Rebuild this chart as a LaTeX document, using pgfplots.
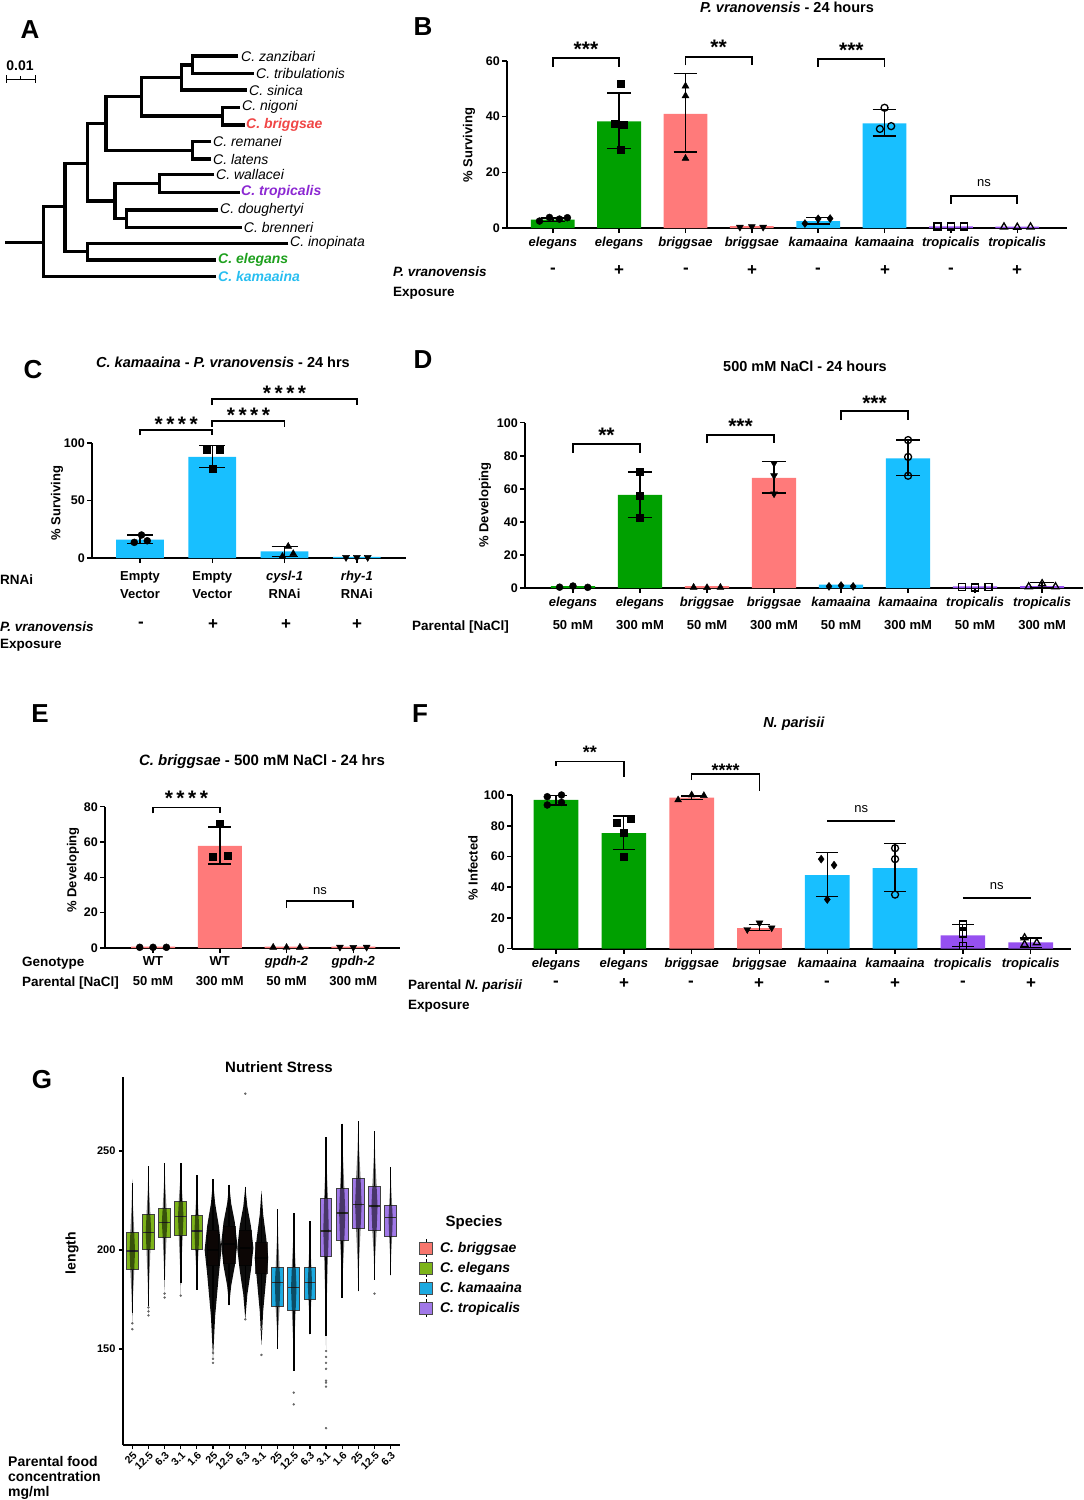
\documentclass[border=0pt]{standalone}
\usepackage{fontspec}
\setmainfont{Liberation Sans}
\usepackage{pgfplots}
\pgfplotsset{compat=1.18}
\definecolor{cgreen}{RGB}{0,160,0}
\definecolor{csalmon}{RGB}{255,122,122}
\definecolor{ccyan}{RGB}{24,191,255}
\definecolor{cpurple}{RGB}{150,80,240}
\definecolor{golive}{RGB}{125,180,25}
\definecolor{gcyan}{RGB}{28,170,225}
\definecolor{gpurple}{RGB}{160,120,232}
\definecolor{gsalmon}{RGB}{248,118,109}
\definecolor{tred}{RGB}{240,70,70}
\definecolor{tpurple}{RGB}{140,40,210}
\definecolor{tgreen}{RGB}{30,160,30}
\definecolor{tcyan}{RGB}{40,190,240}
\newcommand\fs[2]{\fontsize{#1}{#2}\selectfont}
\tikzset{stx/.style={font=\bfseries\fs{21}{21}}, stf/.style={font=\bfseries\fs{18}{18}}, nsl/.style={font=\fs{13}{13}}}
\pgfplotsset{
 gp/.style={scale only axis, clip=false, axis lines=left,
   axis line style={-, line width=1.8pt, black},
   tick align=outside, major tick length=5pt,
   every tick/.append style={black, line width=1.5pt},
   /pgf/number format/assume math mode=true,
   yticklabel style={font=\bfseries\fs{12.5}{14}, inner sep=2pt},
   xticklabel style={font=\bfseries\itshape\fs{13}{15}, inner sep=2pt, yshift=-2pt},
   ymin=0, xtick={0,...,7}},
 ebs/.style={black, line width=1.5pt},
 br/.style={black, line width=1.8pt},
 gbar/.style={ybar, bar width=0.66, bar shift=0pt, draw=none, fill=#1},
 mk/.style={only marks, mark=#1, mark size=3.5pt, color=black, mark options={solid, fill=black}},
 omk/.style={only marks, mark=#1, mark size=3.5pt, color=black, mark options={solid, fill=white, line width=1.3pt}},
 mkd/.style={only marks, mark=triangle*, mark size=4pt, color=black, mark options={solid, fill=black, rotate=180}},
 gcl/.style={fill=black, draw=none, opacity=0.55, forget plot},
 gbl/.style={fill=black, draw=none, opacity=0.95, forget plot},
 tr/.style={black, line width=3.5pt},
}
% error bar: [halfcap]{x}{lo}{hi}
\newcommand\eb[4][0.18]{%
 \pgfmathsetmacro\ebl{#2-#1}\pgfmathsetmacro\ebr{#2+#1}%
 \edef\ebtmp{\noexpand\addplot[ebs] coordinates {(\ebl,#4)(\ebr,#4)};%
 \noexpand\addplot[ebs] coordinates {(#2,#4)(#2,#3)};%
 \noexpand\addplot[ebs] coordinates {(\ebl,#3)(\ebr,#3)};}\ebtmp}
% cloud: {style}{pos}{lo}{q1}{med}{q3}{hi}{w}
\newcommand\cloud[8]{%
 \pgfmathsetmacro\ca{#2-#8}\pgfmathsetmacro\cb{#2-0.7*#8}\pgfmathsetmacro\cc{#2-0.25*#8}%
 \pgfmathsetmacro\cd{#2+0.25*#8}\pgfmathsetmacro\ce{#2+0.7*#8}\pgfmathsetmacro\cf{#2+#8}%
 \pgfmathsetmacro\ylo{(#3+#4)/2}\pgfmathsetmacro\yhi{(#6+#7)/2}%
 \edef\cltmp{\noexpand\addplot[#1] coordinates {(#2,#3)(\cd,\ylo)(\ce,#4)(\cf,#5)(\ce,#6)(\cd,\yhi)(#2,#7)(\cc,\yhi)(\cb,#6)(\ca,#5)(\cb,#4)(\cc,\ylo)} --cycle;}\cltmp}
% box: {pos}{lw}{q1}{med}{q3}{uw}{colour}
\newcommand\gbox[7]{%
 \pgfmathsetmacro\gxl{#1-0.36}\pgfmathsetmacro\gxr{#1+0.36}%
 \edef\gbtmp{\noexpand\addplot[forget plot, black, line width=1.6pt] coordinates {(#1,#2)(#1,#3)};%
 \noexpand\addplot[forget plot, black, line width=1.6pt] coordinates {(#1,#5)(#1,#6)};%
 \noexpand\addplot[forget plot, fill=#7, draw=black!75, line width=0.9pt] coordinates {(\gxl,#3)(\gxr,#3)(\gxr,#5)(\gxl,#5)} --cycle;%
 \noexpand\addplot[forget plot, draw=black!80, line width=1.4pt] coordinates {(\gxl,#4)(\gxr,#4)};}\gbtmp}

\begin{document}
\begin{tikzpicture}
\path[use as bounding box] (0pt,0pt) rectangle (1084pt,-1500pt);

% ---------------- A: tree
\begin{axis}[at={(0pt,0pt)}, anchor=north west, scale only axis, width=400pt, height=300pt,
  xmin=0, xmax=400, ymin=0, ymax=300, y dir=reverse, hide axis, clip=false]
\addplot[tr] coordinates {(5,242.3)(43.3,242.3)};
\addplot[tr] coordinates {(216,276.7)(43.3,276.7)(43.3,206.7)(65,206.7)};
\addplot[tr] coordinates {(87.3,163.3)(65,163.3)(65,251.7)(87.3,251.7)};
\addplot[tr] coordinates {(288.3,243.3)(87.3,243.3)(87.3,260)(216,260)};
\addplot[tr] coordinates {(106,123.3)(87.3,123.3)(87.3,201)(115,201)};
\addplot[tr] coordinates {(159.3,183.3)(115,183.3)(115,218.7)(126.7,218.7)};
\addplot[tr] coordinates {(214.3,174.3)(159.3,174.3)(159.3,192.3)(240,192.3)};
\addplot[tr] coordinates {(218.3,210)(126.7,210)(126.7,227.3)(241.7,227.3)};
\addplot[tr] coordinates {(141.7,96.7)(106,96.7)(106,150.3)(192.7,150.3)};
\addplot[tr] coordinates {(211,141.7)(192.7,141.7)(192.7,159)(211,159)};
\addplot[tr] coordinates {(181.7,77.5)(141.7,77.5)(141.7,116)(222.7,116)};
\addplot[tr] coordinates {(240,107.3)(222.7,107.3)(222.7,125)(245,125)};
\addplot[tr] coordinates {(192.7,65)(181.7,65)(181.7,90)(246.7,90)};
\addplot[tr] coordinates {(238,56)(192.7,56)(192.7,73.3)(254,73.3)};
\addplot[black, line width=1pt] coordinates {(6,79)(35,79)};
\addplot[black, line width=1pt] coordinates {(6,75)(6,83)};
\addplot[black, line width=1pt] coordinates {(35,75)(35,83)};
\addplot[black, line width=1pt] coordinates {(20.5,76)(20.5,79)};
\end{axis}

% ---------------- B
\begin{axis}[gp, at={(507pt,-228pt)}, anchor=south west, width=560pt, height=167pt,
  xmin=-0.69, xmax=7.75, ymax=60, ytick={0,20,40,60},
  xticklabels={elegans,elegans,briggsae,briggsae,kamaaina,kamaaina,tropicalis,tropicalis}]
\addplot[gbar=cgreen] coordinates {(0,3)(1,38.3)};
\addplot[gbar=csalmon] coordinates {(2,41)(3,0.7)};
\addplot[gbar=ccyan] coordinates {(4,2.5)(5,37.6)};
\addplot[gbar=cpurple] coordinates {(6,0.6)(7,0.5)};
\eb{0}{2.4}{3.6}
\eb{1}{28.5}{48.5}
\eb{2}{27.3}{55.5}
\eb{4}{1.5}{3.7}
\eb{5}{33}{42.5}
\addplot[mk=*] coordinates {(-0.2,2.5)(-0.05,3.8)(0.1,3.2)(0.22,3.7)};
\addplot[mk=square*] coordinates {(1.03,52)(0.94,37.5)(1.07,37)(1.02,28)};
\addplot[mk=triangle*, mark size=4pt] coordinates {(2,51)(2,47.5)(2,25)};
\addplot[mkd] coordinates {(2.82,0.3)(3,0.5)(3.17,0.3)};
\addplot[mk=diamond*, mark size=4pt] coordinates {(3.8,1.6)(4,3.3)(4.18,3.4)};
\addplot[omk=o] coordinates {(5,43.2)(4.93,35.6)(5.1,36.6)};
\addplot[omk=square] coordinates {(5.8,0.5)(6,0.5)(6.2,0.5)};
\addplot[omk=triangle, mark size=4pt] coordinates {(6.8,0.4)(7,0.3)(7.2,0.4)};
\addplot[br] coordinates {(0,58)(0,61)(1,61)(1,58)};
\addplot[br] coordinates {(2,58.4)(2,61.3)(3,61.3)(3,58.4)};
\addplot[br] coordinates {(4,58)(4,60.8)(5,60.8)(5,58)};
\addplot[br] coordinates {(6,8.7)(6,11.6)(7,11.6)(7,8.7)};
\node[stx] at (axis cs:0.5,64.3) {***};
\node[stx] at (axis cs:2.5,65) {**};
\node[stx] at (axis cs:4.5,64) {***};
\node[nsl] at (axis cs:6.5,16) {ns};
\end{axis}

% ---------------- C
\begin{axis}[gp, at={(92pt,-558pt)}, anchor=south west, width=314pt, height=115pt,
  xmin=-0.665, xmax=3.68, ymax=100, ytick={0,50,100}, xtick={0,...,3},
  xticklabels={{Empty\\Vector},{Empty\\Vector},{\textit{cysl-1}\\RNAi},{\textit{rhy-1}\\RNAi}},
  xticklabel style={font=\bfseries\fs{13}{18}, align=center, yshift=-4pt}]
\addplot[gbar=ccyan] coordinates {(0,16)(1,88)(2,5.8)(3,1.0)};
\eb{0}{12.6}{19.8}
\eb{1}{78.8}{97.7}
\eb{2}{1.4}{10.1}
\addplot[mk=*] coordinates {(0.02,20)(-0.08,13.6)(0.1,15)};
\addplot[mk=square*] coordinates {(0.92,94.2)(1.1,94.2)(1,77.4)};
\addplot[mk=triangle*, mark size=4pt] coordinates {(2.05,10.1)(2.12,3.8)(1.97,1.4)};
\addplot[mkd] coordinates {(2.85,0.5)(3,0.5)(3.15,0.5)};
\addplot[br] coordinates {(0,106.7)(0,111.6)(1,111.6)(1,106.7)};
\addplot[br] coordinates {(1,114)(1,119)(2,119)(2,114)};
\addplot[br] coordinates {(1,133)(1,138)(3,138)(3,133)};
\node[stx] at (axis cs:0.5,116.5) {*\,*\,*\,*};
\node[stx] at (axis cs:1.5,124.5) {*\,*\,*\,*};
\node[stx] at (axis cs:2,143.5) {*\,*\,*\,*};
\end{axis}

% ---------------- D
\begin{axis}[gp, at={(525pt,-588pt)}, anchor=south west, width=558pt, height=165.3pt,
  xmin=-0.716, xmax=7.61, ymax=100, ytick={0,20,...,100},
  xticklabels={{\textit{elegans}\\50 mM},{\textit{elegans}\\300 mM},{\textit{briggsae}\\50 mM},{\textit{briggsae}\\300 mM},{\textit{kamaaina}\\50 mM},{\textit{kamaaina}\\300 mM},{\textit{tropicalis}\\50 mM},{\textit{tropicalis}\\300 mM}},
  xticklabel style={font=\bfseries\fs{13}{23}, align=center, yshift=0pt}]
\addplot[gbar=cgreen] coordinates {(0,1.2)(1,56.3)};
\addplot[gbar=csalmon] coordinates {(2,1.2)(3,66.7)};
\addplot[gbar=ccyan] coordinates {(4,2)(5,78.4)};
\addplot[gbar=cpurple] coordinates {(6,1)(7,1.2)};
\eb{1}{42.7}{70.3}
\eb{3}{57.5}{76.5}
\eb{5}{68.2}{89.5}
\eb{7}{0}{3.4}
\addplot[mk=*] coordinates {(-0.2,0.5)(0,1.2)(0.22,0.4)};
\addplot[mk=square*] coordinates {(1,70.3)(1,55.8)(1,42.6)};
\addplot[mk=triangle*, mark size=4pt] coordinates {(1.8,0.4)(2,0.2)(2.2,0.4)};
\addplot[mkd] coordinates {(3,75.5)(3,68)(3,57)};
\addplot[mk=diamond*, mark size=4pt] coordinates {(3.82,1)(4,1.5)(4.18,1)};
\addplot[omk=o] coordinates {(5,89.5)(5,79.3)(5,67.9)};
\addplot[omk=square] coordinates {(5.8,0.5)(6,0.3)(6.2,0.5)};
\addplot[omk=triangle, mark size=4pt] coordinates {(6.8,0.8)(7,2.6)(7.2,0.8)};
\addplot[br] coordinates {(0,81.8)(0,86.9)(1,86.9)(1,81.8)};
\addplot[br] coordinates {(2,87.5)(2,92.5)(3,92.5)(3,87.5)};
\addplot[br] coordinates {(4,101.6)(4,107)(5,107)(5,101.6)};
\node[stx] at (axis cs:0.5,92.5) {**};
\node[stx] at (axis cs:2.5,98) {***};
\node[stx] at (axis cs:4.5,112) {***};
\end{axis}

% ---------------- E
\begin{axis}[gp, at={(105pt,-948pt)}, anchor=south west, width=295pt, height=141.3pt,
  xmin=-0.72, xmax=3.7, ymax=80, ytick={0,20,...,80}, xtick={0,...,3},
  xticklabels={{WT\\50 mM},{WT\\300 mM},{\textit{gpdh-2}\\50 mM},{\textit{gpdh-2}\\300 mM}},
  xticklabel style={font=\bfseries\fs{13}{20}, align=center, yshift=1pt}]
\addplot[gbar=csalmon] coordinates {(0,0.8)(1,57.8)(2,0.8)(3,0.8)};
\eb[0.17]{1}{47.5}{68.6}
\addplot[mk=*] coordinates {(-0.2,0.4)(0,0.4)(0.2,0.4)};
\addplot[mk=square*] coordinates {(1,70.6)(0.9,51.8)(1.12,52.2)};
\addplot[mk=triangle*, mark size=4pt] coordinates {(1.8,0.4)(2,0.3)(2.2,0.4)};
\addplot[mkd] coordinates {(2.8,0.5)(3,0.4)(3.2,0.5)};
\addplot[br] coordinates {(0,76.3)(0,79.6)(1,79.6)(1,76.3)};
\addplot[br] coordinates {(2,22.7)(2,26.8)(3,26.8)(3,22.7)};
\node[stx] at (axis cs:0.5,84.5) {*\,*\,*\,*};
\node[nsl] at (axis cs:2.5,32) {ns};
\end{axis}

% ---------------- F
\begin{axis}[gp, at={(512pt,-948.7pt)}, anchor=south west, width=559pt, height=153.7pt,
  xmin=-0.65, xmax=7.595, ymax=100, ytick={0,20,...,100},
  ebs/.style={black, line width=1.2pt}, br/.style={black, line width=1.3pt},
  xticklabels={elegans,elegans,briggsae,briggsae,kamaaina,kamaaina,tropicalis,tropicalis}]
\addplot[gbar=cgreen] coordinates {(0,96.8)(1,75.2)};
\addplot[gbar=csalmon] coordinates {(2,98.3)(3,13.4)};
\addplot[gbar=ccyan] coordinates {(4,47.9)(5,52.5)};
\addplot[gbar=cpurple] coordinates {(6,8.6)(7,4.1)};
\eb[0.16]{0}{93.5}{99.8}
\eb[0.16]{1}{64.8}{86.4}
\eb[0.16]{2}{97.3}{99.3}
\eb[0.16]{3}{12}{15.5}
\eb[0.16]{4}{34}{62.4}
\eb[0.16]{5}{37.4}{68.7}
\eb[0.16]{6}{1.7}{16}
\eb[0.16]{7}{1}{7}
\addplot[mk=*] coordinates {(-0.13,98.9)(0.08,100)(-0.13,93.5)(0.08,95.2)};
\addplot[mk=square*] coordinates {(0.9,82)(1.1,84.4)(1,75.8)(1,60)};
\addplot[mk=triangle*, mark size=4pt] coordinates {(1.8,96.8)(2,100)(2.18,99.6)};
\addplot[mkd] coordinates {(2.82,12.5)(3,16.8)(3.18,13.6)};
\addplot[mk=diamond*, mark size=4pt] coordinates {(3.91,58.3)(4.1,54.4)(4,32)};
\addplot[omk=o] coordinates {(5,65.4)(5,58.3)(5,35.2)};
\addplot[omk=square] coordinates {(6,15.8)(6,9.9)(6,1.7)};
\addplot[omk=triangle, mark size=4pt] coordinates {(6.91,7.1)(6.91,2.8)(7.09,3.9)};
\addplot[br] coordinates {(0,118.8)(0,122)(1,122)(1,112)};
\addplot[br] coordinates {(2,109.7)(2,113.6)(3,113.6)(3,102.6)};
\addplot[black, line width=2pt] coordinates {(4,83.4)(5,83.4)};
\addplot[black, line width=2pt] coordinates {(6,33)(7,33)};
\node[stf] at (axis cs:0.5,127.5) {**};
\node[stf] at (axis cs:2.5,116) {****};
\node[nsl] at (axis cs:4.5,90.7) {ns};
\node[nsl] at (axis cs:6.5,40.6) {ns};
\end{axis}

% ---------------- G
\begin{axis}[scale only axis, clip=false, at={(123pt,-1445pt)}, anchor=south west,
  width=277pt, height=368pt, xmin=-0.576, xmax=16.58, ymin=101.5, ymax=287.4,
  axis lines=left, axis line style={-, line width=1.6pt, black},
  tick align=outside, major tick length=4pt, every tick/.append style={black, line width=1.2pt},
  ytick={150,200,250}, xtick={0,...,16},
  xticklabels={25,12.5,6.3,3.1,1.6,25,12.5,6.3,3.1,25,12.5,6.3,3.1,1.6,25,12.5,6.3},
  xticklabel style={rotate=45, anchor=north east, font=\bfseries\fs{10.5}{11}, inner sep=1pt},
  yticklabel style={font=\bfseries\fs{11}{12}},
  /pgf/number format/assume math mode=true,
  legend entries={C. briggsae, C. elegans, C. kamaaina, C. tropicalis},
  legend style={at={(1.069,0.562)}, anchor=north west, draw=none, fill=none,
    font=\bfseries\itshape\fs{14}{16}, row sep=1pt, column sep=5pt, inner sep=0pt},
  legend cell align=left]
\addlegendimage{legend image code/.code={\draw[black,line width=1pt] (6.5pt,-9pt)--(6.5pt,9pt); \draw[fill=gsalmon,draw=black!70,line width=0.8pt] (0pt,-6pt) rectangle (13pt,6pt);}}
\addlegendimage{legend image code/.code={\draw[black,line width=1pt] (6.5pt,-9pt)--(6.5pt,9pt); \draw[fill=golive,draw=black!70,line width=0.8pt] (0pt,-6pt) rectangle (13pt,6pt);}}
\addlegendimage{legend image code/.code={\draw[black,line width=1pt] (6.5pt,-9pt)--(6.5pt,9pt); \draw[fill=gcyan,draw=black!70,line width=0.8pt] (0pt,-6pt) rectangle (13pt,6pt);}}
\addlegendimage{legend image code/.code={\draw[black,line width=1pt] (6.5pt,-9pt)--(6.5pt,9pt); \draw[fill=gpurple,draw=black!70,line width=0.8pt] (0pt,-6pt) rectangle (13pt,6pt);}}
\gbox{0}{168.4}{190.3}{199.5}{209}{234}{golive}
\gbox{1}{171.8}{200.3}{209}{218.2}{242.4}{golive}
\gbox{2}{185}{206.6}{213.8}{220.8}{244}{golive}
\gbox{3}{183.5}{207.4}{217}{224.7}{244}{golive}
\gbox{4}{180}{200.3}{209.6}{217.5}{238}{golive}
\gbox{5}{160}{192}{200}{210}{236}{gsalmon}
\gbox{6}{172}{193}{203}{212}{233}{gsalmon}
\gbox{7}{168}{192}{201}{210}{232}{gsalmon}
\gbox{8}{165}{188}{196}{204}{228}{gsalmon}
\gbox{9}{150}{171.4}{183.5}{191}{220.8}{gcyan}
\gbox{10}{139}{169.6}{181}{191}{218.8}{gcyan}
\gbox{11}{157.5}{175}{183.5}{191}{214.6}{gcyan}
\gbox{12}{156.6}{196.6}{209.6}{225.9}{257}{gpurple}
\gbox{13}{176}{205}{218.8}{231}{263.9}{gpurple}
\gbox{14}{179.3}{210.8}{223}{236}{265}{gpurple}
\gbox{15}{185}{210}{222.2}{232}{260.3}{gpurple}
\gbox{16}{187.2}{206.7}{216.3}{222.5}{242}{gpurple}
\cloud{gcl}{0}{163}{190}{199.5}{209}{236}{0.17}
\cloud{gcl}{1}{167}{200}{209}{218}{242}{0.17}
\cloud{gcl}{2}{178}{207}{214}{221}{244}{0.17}
\cloud{gcl}{3}{177}{207}{217}{225}{244}{0.17}
\cloud{gcl}{4}{180}{200}{209.6}{217.5}{238}{0.15}
\cloud{gbl}{5}{145}{188}{200}{212}{235}{0.52}
\cloud{gbl}{6}{172}{192}{203}{214}{233}{0.5}
\cloud{gbl}{7}{165}{190}{201}{212}{232}{0.5}
\cloud{gbl}{8}{152}{186}{196}{206}{230}{0.42}
\cloud{gcl}{9}{150}{171}{183.5}{191}{220}{0.17}
\cloud{gcl}{10}{139}{170}{181}{191}{218}{0.17}
\cloud{gcl}{11}{157}{175}{183.5}{191}{214}{0.13}
\cloud{gcl}{12}{150}{197}{209.6}{226}{257}{0.17}
\cloud{gcl}{13}{176}{205}{218.8}{231}{264}{0.19}
\cloud{gcl}{14}{179}{211}{223}{236}{265}{0.2}
\cloud{gcl}{15}{185}{210}{222}{232}{260}{0.19}
\cloud{gcl}{16}{187}{207}{216}{222.5}{242}{0.13}
\addplot[forget plot, only marks, mark=*, mark size=1pt, black!60] coordinates {(0,160)(0,163)(1,167)(1,169)(1,171)(2,176)(2,178)(3,177)(5,143)(5,145)(5,148)(5,151)(7,279)(7,165)(8,147)(8,160)(10,128)(10,122)(12,149)(12,146)(12,143)(12,140)(12,134)(12,133)(12,131)(12,110)(15,178)};
\end{axis}

% ---------------- text
\begin{scope}[x=1pt,y=-1pt]
\tikzset{lt/.style={font=\bfseries\fs{26}{26}}, tl/.style={anchor=west, font=\itshape\fs{14}{14}, inner sep=0pt},
  ttl/.style={font=\bfseries\fs{14.5}{15}}, yl/.style={rotate=90, font=\bfseries\fs{13}{13}},
  rl/.style={anchor=west, font=\bfseries\fs{13.5}{14}, inner sep=0pt}, pm/.style={font=\bfseries\fs{17}{17}}}
\node[lt] at (30,30) {A};
\node[lt] at (423,27) {B};
\node[lt] at (33,370) {C};
\node[lt] at (423,360) {D};
\node[lt] at (40,714) {E};
\node[lt] at (420,714) {F};
\node[lt] at (42,1080) {G};
% tree labels
\node[font=\bfseries\fs{14}{14}] at (20,66) {0.01};
\node[tl] at (241,56) {C. zanzibari};
\node[tl] at (256,73.3) {C. tribulationis};
\node[tl] at (249,90) {C. sinica};
\node[tl] at (242,107.3) {C. nigoni};
\node[tl, font=\bfseries\itshape\fs{14}{14}, text=tred] at (246,125) {C. briggsae};
\node[tl] at (213,141.7) {C. remanei};
\node[tl] at (213,159) {C. latens};
\node[tl] at (216,174.3) {C. wallacei};
\node[tl, font=\bfseries\itshape\fs{14}{14}, text=tpurple] at (241,192.3) {C. tropicalis};
\node[tl] at (220,210) {C. doughertyi};
\node[tl] at (243.7,227.3) {C. brenneri};
\node[tl] at (290,243.3) {C. inopinata};
\node[tl, font=\bfseries\itshape\fs{14}{14}, text=tgreen] at (218,260) {C. elegans};
\node[tl, font=\bfseries\itshape\fs{14}{14}, text=tcyan] at (218,276.7) {C. kamaaina};
% B
\node[ttl] at (787,7) {\textit{P. vranovensis} - 24 hours};
\node[yl] at (469,145) {\% Surviving};
\node[rl] at (393,272) {\textit{P. vranovensis}};
\node[rl] at (393,293) {Exposure};
\node[pm] at (553,271) {-}; \node[pm] at (619,271) {+};
\node[pm] at (686,271) {-}; \node[pm] at (752,271) {+};
\node[pm] at (818,271) {-}; \node[pm] at (885,271) {+};
\node[pm] at (951,271) {-}; \node[pm] at (1017,271) {+};
% C
\node[ttl] at (223,362) {\textit{C. kamaaina} - \textit{P. vranovensis} - 24 hrs};
\node[yl] at (57,503) {\% Surviving};
\node[rl] at (0,580) {RNAi};
\node[rl] at (0,627) {\textit{P. vranovensis}};
\node[rl] at (0,645) {Exposure};
\node[pm] at (141,625) {-}; \node[pm] at (213,625) {+};
\node[pm] at (286,625) {+}; \node[pm] at (357,625) {+};
% D
\node[ttl] at (805,366) {500 mM NaCl - 24 hours};
\node[yl] at (485,505) {\% Developing};
\node[rl] at (412,627) {Parental [NaCl]};
% E
\node[ttl, font=\bfseries\fs{15}{15}] at (262,762) {\textit{C. briggsae} - 500 mM NaCl - 24 hrs};
\node[yl] at (73,870) {\% Developing};
\node[rl] at (22,963) {Genotype};
\node[rl] at (22,983) {Parental [NaCl]};
% F
\node[ttl] at (794,724) {\textit{N. parisii}};
\node[yl] at (473,868) {\% Infected};
\node[rl] at (408,986) {Parental \textit{N. parisii}};
\node[rl] at (408,1006) {Exposure};
\node[pm] at (556,984) {-}; \node[pm] at (624,984) {+};
\node[pm] at (691,984) {-}; \node[pm] at (759,984) {+};
\node[pm] at (827,984) {-}; \node[pm] at (895,984) {+};
\node[pm] at (963,984) {-}; \node[pm] at (1031,984) {+};
% G
\node[ttl, font=\bfseries\fs{15}{15}] at (279,1067) {Nutrient Stress};
\node[yl, font=\bfseries\fs{14}{14}] at (72,1253) {length};
\node[font=\bfseries\fs{15}{15}] at (474,1223) {Species};
\node[anchor=north west, align=left, inner sep=0pt, font=\bfseries\fs{14}{15}] at (8,1456) {Parental food\\concentration\\mg/ml};
\end{scope}
\end{tikzpicture}
\end{document}
